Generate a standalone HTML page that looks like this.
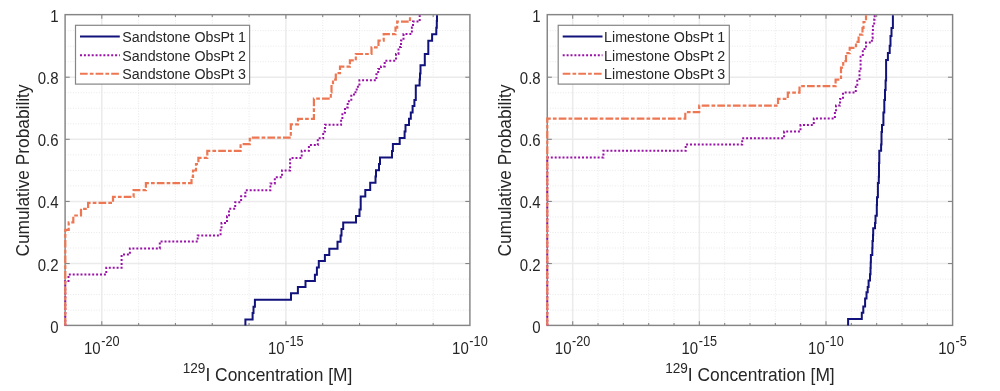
<!DOCTYPE html>
<html><head><meta charset="utf-8"><style>
html,body{margin:0;padding:0;background:#fff;width:1000px;height:391px;overflow:hidden}
svg{display:block;will-change:transform}
text{font-family:"Liberation Sans",sans-serif}
</style></head><body>
<svg width="1000" height="391" viewBox="0 0 1000 391">
<rect width="1000" height="391" fill="#fff"/>
<line x1="138.62" y1="14.65" x2="138.62" y2="325.4" stroke="#e8e8e8" stroke-width="1" stroke-dasharray="1 1.6"/>
<line x1="175.44" y1="14.65" x2="175.44" y2="325.4" stroke="#e8e8e8" stroke-width="1" stroke-dasharray="1 1.6"/>
<line x1="212.26" y1="14.65" x2="212.26" y2="325.4" stroke="#e8e8e8" stroke-width="1" stroke-dasharray="1 1.6"/>
<line x1="249.08" y1="14.65" x2="249.08" y2="325.4" stroke="#e8e8e8" stroke-width="1" stroke-dasharray="1 1.6"/>
<line x1="322.72" y1="14.65" x2="322.72" y2="325.4" stroke="#e8e8e8" stroke-width="1" stroke-dasharray="1 1.6"/>
<line x1="359.54" y1="14.65" x2="359.54" y2="325.4" stroke="#e8e8e8" stroke-width="1" stroke-dasharray="1 1.6"/>
<line x1="396.36" y1="14.65" x2="396.36" y2="325.4" stroke="#e8e8e8" stroke-width="1" stroke-dasharray="1 1.6"/>
<line x1="433.18" y1="14.65" x2="433.18" y2="325.4" stroke="#e8e8e8" stroke-width="1" stroke-dasharray="1 1.6"/>
<line x1="65.1" y1="310.12" x2="469.9" y2="310.12" stroke="#e8e8e8" stroke-width="1" stroke-dasharray="1 1.6"/>
<line x1="65.1" y1="294.59" x2="469.9" y2="294.59" stroke="#e8e8e8" stroke-width="1" stroke-dasharray="1 1.6"/>
<line x1="65.1" y1="279.07" x2="469.9" y2="279.07" stroke="#e8e8e8" stroke-width="1" stroke-dasharray="1 1.6"/>
<line x1="65.1" y1="248.01" x2="469.9" y2="248.01" stroke="#e8e8e8" stroke-width="1" stroke-dasharray="1 1.6"/>
<line x1="65.1" y1="232.48" x2="469.9" y2="232.48" stroke="#e8e8e8" stroke-width="1" stroke-dasharray="1 1.6"/>
<line x1="65.1" y1="216.96" x2="469.9" y2="216.96" stroke="#e8e8e8" stroke-width="1" stroke-dasharray="1 1.6"/>
<line x1="65.1" y1="185.90" x2="469.9" y2="185.90" stroke="#e8e8e8" stroke-width="1" stroke-dasharray="1 1.6"/>
<line x1="65.1" y1="170.37" x2="469.9" y2="170.37" stroke="#e8e8e8" stroke-width="1" stroke-dasharray="1 1.6"/>
<line x1="65.1" y1="154.85" x2="469.9" y2="154.85" stroke="#e8e8e8" stroke-width="1" stroke-dasharray="1 1.6"/>
<line x1="65.1" y1="123.79" x2="469.9" y2="123.79" stroke="#e8e8e8" stroke-width="1" stroke-dasharray="1 1.6"/>
<line x1="65.1" y1="108.26" x2="469.9" y2="108.26" stroke="#e8e8e8" stroke-width="1" stroke-dasharray="1 1.6"/>
<line x1="65.1" y1="92.74" x2="469.9" y2="92.74" stroke="#e8e8e8" stroke-width="1" stroke-dasharray="1 1.6"/>
<line x1="65.1" y1="61.68" x2="469.9" y2="61.68" stroke="#e8e8e8" stroke-width="1" stroke-dasharray="1 1.6"/>
<line x1="65.1" y1="46.15" x2="469.9" y2="46.15" stroke="#e8e8e8" stroke-width="1" stroke-dasharray="1 1.6"/>
<line x1="65.1" y1="30.63" x2="469.9" y2="30.63" stroke="#e8e8e8" stroke-width="1" stroke-dasharray="1 1.6"/>
<line x1="101.80" y1="14.65" x2="101.80" y2="325.4" stroke="#ebebeb" stroke-width="1.5"/>
<line x1="285.90" y1="14.65" x2="285.90" y2="325.4" stroke="#ebebeb" stroke-width="1.5"/>
<line x1="65.1" y1="263.54" x2="469.9" y2="263.54" stroke="#ebebeb" stroke-width="1.5"/>
<line x1="65.1" y1="201.43" x2="469.9" y2="201.43" stroke="#ebebeb" stroke-width="1.5"/>
<line x1="65.1" y1="139.32" x2="469.9" y2="139.32" stroke="#ebebeb" stroke-width="1.5"/>
<line x1="65.1" y1="77.21" x2="469.9" y2="77.21" stroke="#ebebeb" stroke-width="1.5"/>
<line x1="101.80" y1="325.4" x2="101.80" y2="321.2" stroke="#858585" stroke-width="1.1"/>
<line x1="101.80" y1="14.65" x2="101.80" y2="18.85" stroke="#858585" stroke-width="1.1"/>
<line x1="138.62" y1="325.4" x2="138.62" y2="323.0" stroke="#858585" stroke-width="1.1"/>
<line x1="138.62" y1="14.65" x2="138.62" y2="17.05" stroke="#858585" stroke-width="1.1"/>
<line x1="175.44" y1="325.4" x2="175.44" y2="323.0" stroke="#858585" stroke-width="1.1"/>
<line x1="175.44" y1="14.65" x2="175.44" y2="17.05" stroke="#858585" stroke-width="1.1"/>
<line x1="212.26" y1="325.4" x2="212.26" y2="323.0" stroke="#858585" stroke-width="1.1"/>
<line x1="212.26" y1="14.65" x2="212.26" y2="17.05" stroke="#858585" stroke-width="1.1"/>
<line x1="249.08" y1="325.4" x2="249.08" y2="323.0" stroke="#858585" stroke-width="1.1"/>
<line x1="249.08" y1="14.65" x2="249.08" y2="17.05" stroke="#858585" stroke-width="1.1"/>
<line x1="285.90" y1="325.4" x2="285.90" y2="321.2" stroke="#858585" stroke-width="1.1"/>
<line x1="285.90" y1="14.65" x2="285.90" y2="18.85" stroke="#858585" stroke-width="1.1"/>
<line x1="322.72" y1="325.4" x2="322.72" y2="323.0" stroke="#858585" stroke-width="1.1"/>
<line x1="322.72" y1="14.65" x2="322.72" y2="17.05" stroke="#858585" stroke-width="1.1"/>
<line x1="359.54" y1="325.4" x2="359.54" y2="323.0" stroke="#858585" stroke-width="1.1"/>
<line x1="359.54" y1="14.65" x2="359.54" y2="17.05" stroke="#858585" stroke-width="1.1"/>
<line x1="396.36" y1="325.4" x2="396.36" y2="323.0" stroke="#858585" stroke-width="1.1"/>
<line x1="396.36" y1="14.65" x2="396.36" y2="17.05" stroke="#858585" stroke-width="1.1"/>
<line x1="433.18" y1="325.4" x2="433.18" y2="323.0" stroke="#858585" stroke-width="1.1"/>
<line x1="433.18" y1="14.65" x2="433.18" y2="17.05" stroke="#858585" stroke-width="1.1"/>
<line x1="65.1" y1="263.54" x2="69.69999999999999" y2="263.54" stroke="#858585" stroke-width="1.1"/>
<line x1="469.9" y1="263.54" x2="465.29999999999995" y2="263.54" stroke="#858585" stroke-width="1.1"/>
<line x1="65.1" y1="201.43" x2="69.69999999999999" y2="201.43" stroke="#858585" stroke-width="1.1"/>
<line x1="469.9" y1="201.43" x2="465.29999999999995" y2="201.43" stroke="#858585" stroke-width="1.1"/>
<line x1="65.1" y1="139.32" x2="69.69999999999999" y2="139.32" stroke="#858585" stroke-width="1.1"/>
<line x1="469.9" y1="139.32" x2="465.29999999999995" y2="139.32" stroke="#858585" stroke-width="1.1"/>
<line x1="65.1" y1="77.21" x2="69.69999999999999" y2="77.21" stroke="#858585" stroke-width="1.1"/>
<line x1="469.9" y1="77.21" x2="465.29999999999995" y2="77.21" stroke="#858585" stroke-width="1.1"/>
<rect x="65.1" y="14.65" width="404.80" height="310.75" fill="none" stroke="#858585" stroke-width="1.45"/>
<path d="M245.4,325.6V319.4H252.6V313.0H253.5V306.8H254.9V299.8H291.0V293.3H297.9V287.1H305.5V281.0H314.9V274.7H316.9V267.6H318.8V261.0H324.9V254.9H329.3V248.7H337.5V241.8H340.6V235.5H341.5V229.1H343.2V222.6H356.0V216.0H359.5V209.5H360.7V203.0V196.6H365.3V190.0H370.2V182.7H375.5V176.5H376.0V170.3H379.0V163.9H380.0V157.6H392.0V150.9H392.9V144.1H399.7V138.0H404.6V131.5H405.5V124.9H409.0V118.7H410.8V112.4H412.6V106.1H414.4V99.9H415.8V92.7V85.6H419.6V79.5H420.0V73.4H420.5V65.3H424.8V59.7V54.1H428.3V47.4V40.7H432.1V34.3H436.3V27.7H436.8V21.1H437.0V15.3" fill="none" stroke="#12127c" stroke-width="2"/>
<path d="M65.3,325.6V281.0H68.5V274.5H106.3V267.7H121.6V261.2V254.6H129.9V248.4H159.8V241.5H197.7V235.4H220.6V229.0H221.5V223.0H227.0V216.3H229.0V208.8H235.2V202.2H241.1V196.3H245.4V190.2H270.4V183.5H274.8V177.3H282.0V170.5H290.1V164.2V158.0H301.7V150.8H308.9V145.1H317.8V138.3H323.2V131.5H325.0V124.8H341.1V119.1H342.4V112.8H345.0V107.4H347.7V101.2H351.3V95.8H354.0V92.2H356.7V86.8H359.4V80.3H376.4V74.3H378.2V69.0H381.0V66.4H384.7V60.7H396.0V54.0H398.5V47.1H401.0V40.5H403.5V34.0H411.9V27.5H413.0V21.6H419.7V15.3" fill="none" stroke="#9a10a8" stroke-width="2" stroke-dasharray="2 1.9"/>
<path d="M65.3,325.6V229.8H68.7V222.4H73.3V215.5H81.0V208.8H88.1V202.8H113.0V196.8H133.6V190.2H145.9V183.1H191.5V176.9H193.0V170.5H196.0V164.0H198.4V157.8H207.3V150.9H240.6V144.1H249.8V137.7H290.8V131.0V124.4H298.0V118.8H313.9V112.0V105.3V98.7H330.8V92.3H331.5V86.0H333.0V79.6H335.8V73.2H340.0V66.6H349.9V60.4H355.8V54.0H371.5V47.3H378.5V40.6H383.7V34.1H395.5V27.7H397.2V21.7H410.0V15.3" fill="none" stroke="#ee7753" stroke-width="2.2" stroke-dasharray="7.7 2.1 3.7 2.1"/>
<rect x="75.5" y="25.3" width="174.1" height="58.8" fill="#fff" stroke="#858585" stroke-width="1.2"/>
<line x1="80.0" y1="36.5" x2="119.8" y2="36.5" stroke="#12127c" stroke-width="2"/>
<text transform="translate(122.30 41.80) scale(1 1.0)" font-size="14.25" text-anchor="start" fill="#262626">Sandstone ObsPt 1</text>
<line x1="80.0" y1="55.2" x2="119.8" y2="55.2" stroke="#9a10a8" stroke-width="2" stroke-dasharray="2 1.9"/>
<text transform="translate(122.30 60.50) scale(1 1.0)" font-size="14.25" text-anchor="start" fill="#262626">Sandstone ObsPt 2</text>
<line x1="80.0" y1="73.8" x2="119.8" y2="73.8" stroke="#ee7753" stroke-width="2" stroke-dasharray="7.7 2.1 3.7 2.1"/>
<text transform="translate(122.30 79.10) scale(1 1.0)" font-size="14.25" text-anchor="start" fill="#262626">Sandstone ObsPt 3</text>
<text transform="translate(58.50 332.65) scale(1 1.12)" font-size="15" text-anchor="end" fill="#262626">0</text>
<text transform="translate(58.50 270.54) scale(1 1.12)" font-size="15" text-anchor="end" fill="#262626">0.2</text>
<text transform="translate(58.50 208.43) scale(1 1.12)" font-size="15" text-anchor="end" fill="#262626">0.4</text>
<text transform="translate(58.50 146.32) scale(1 1.12)" font-size="15" text-anchor="end" fill="#262626">0.6</text>
<text transform="translate(58.50 84.21) scale(1 1.12)" font-size="15" text-anchor="end" fill="#262626">0.8</text>
<text transform="translate(58.50 22.10) scale(1 1.12)" font-size="15" text-anchor="end" fill="#262626">1</text>
<text transform="translate(101.70 353.90) scale(1 1.12)" font-size="15" text-anchor="middle" fill="#262626">10<tspan font-size="12.7" dx="0.6" dy="-7.2">-20</tspan></text>
<text transform="translate(285.80 353.90) scale(1 1.12)" font-size="15" text-anchor="middle" fill="#262626">10<tspan font-size="12.7" dx="0.6" dy="-7.2">-15</tspan></text>
<text transform="translate(469.90 353.90) scale(1 1.12)" font-size="15" text-anchor="middle" fill="#262626">10<tspan font-size="12.7" dx="0.6" dy="-7.2">-10</tspan></text>
<text transform="translate(29.10 170.50) rotate(-90) scale(1 1.08)" font-size="17.3" text-anchor="middle" fill="#262626">Cumulative Probability</text>
<text transform="translate(267.50 381.30) scale(1 1.07)" font-size="17.4" text-anchor="middle" fill="#262626"><tspan font-size="13.6" dy="-8">129</tspan><tspan dy="8">I Concentration [M]</tspan></text>
<line x1="598.03" y1="14.65" x2="598.03" y2="325.4" stroke="#e8e8e8" stroke-width="1" stroke-dasharray="1 1.6"/>
<line x1="623.36" y1="14.65" x2="623.36" y2="325.4" stroke="#e8e8e8" stroke-width="1" stroke-dasharray="1 1.6"/>
<line x1="648.69" y1="14.65" x2="648.69" y2="325.4" stroke="#e8e8e8" stroke-width="1" stroke-dasharray="1 1.6"/>
<line x1="674.02" y1="14.65" x2="674.02" y2="325.4" stroke="#e8e8e8" stroke-width="1" stroke-dasharray="1 1.6"/>
<line x1="724.68" y1="14.65" x2="724.68" y2="325.4" stroke="#e8e8e8" stroke-width="1" stroke-dasharray="1 1.6"/>
<line x1="750.01" y1="14.65" x2="750.01" y2="325.4" stroke="#e8e8e8" stroke-width="1" stroke-dasharray="1 1.6"/>
<line x1="775.34" y1="14.65" x2="775.34" y2="325.4" stroke="#e8e8e8" stroke-width="1" stroke-dasharray="1 1.6"/>
<line x1="800.67" y1="14.65" x2="800.67" y2="325.4" stroke="#e8e8e8" stroke-width="1" stroke-dasharray="1 1.6"/>
<line x1="851.33" y1="14.65" x2="851.33" y2="325.4" stroke="#e8e8e8" stroke-width="1" stroke-dasharray="1 1.6"/>
<line x1="876.66" y1="14.65" x2="876.66" y2="325.4" stroke="#e8e8e8" stroke-width="1" stroke-dasharray="1 1.6"/>
<line x1="901.99" y1="14.65" x2="901.99" y2="325.4" stroke="#e8e8e8" stroke-width="1" stroke-dasharray="1 1.6"/>
<line x1="927.32" y1="14.65" x2="927.32" y2="325.4" stroke="#e8e8e8" stroke-width="1" stroke-dasharray="1 1.6"/>
<line x1="547.25" y1="310.12" x2="952.6" y2="310.12" stroke="#e8e8e8" stroke-width="1" stroke-dasharray="1 1.6"/>
<line x1="547.25" y1="294.59" x2="952.6" y2="294.59" stroke="#e8e8e8" stroke-width="1" stroke-dasharray="1 1.6"/>
<line x1="547.25" y1="279.07" x2="952.6" y2="279.07" stroke="#e8e8e8" stroke-width="1" stroke-dasharray="1 1.6"/>
<line x1="547.25" y1="248.01" x2="952.6" y2="248.01" stroke="#e8e8e8" stroke-width="1" stroke-dasharray="1 1.6"/>
<line x1="547.25" y1="232.48" x2="952.6" y2="232.48" stroke="#e8e8e8" stroke-width="1" stroke-dasharray="1 1.6"/>
<line x1="547.25" y1="216.96" x2="952.6" y2="216.96" stroke="#e8e8e8" stroke-width="1" stroke-dasharray="1 1.6"/>
<line x1="547.25" y1="185.90" x2="952.6" y2="185.90" stroke="#e8e8e8" stroke-width="1" stroke-dasharray="1 1.6"/>
<line x1="547.25" y1="170.37" x2="952.6" y2="170.37" stroke="#e8e8e8" stroke-width="1" stroke-dasharray="1 1.6"/>
<line x1="547.25" y1="154.85" x2="952.6" y2="154.85" stroke="#e8e8e8" stroke-width="1" stroke-dasharray="1 1.6"/>
<line x1="547.25" y1="123.79" x2="952.6" y2="123.79" stroke="#e8e8e8" stroke-width="1" stroke-dasharray="1 1.6"/>
<line x1="547.25" y1="108.26" x2="952.6" y2="108.26" stroke="#e8e8e8" stroke-width="1" stroke-dasharray="1 1.6"/>
<line x1="547.25" y1="92.74" x2="952.6" y2="92.74" stroke="#e8e8e8" stroke-width="1" stroke-dasharray="1 1.6"/>
<line x1="547.25" y1="61.68" x2="952.6" y2="61.68" stroke="#e8e8e8" stroke-width="1" stroke-dasharray="1 1.6"/>
<line x1="547.25" y1="46.15" x2="952.6" y2="46.15" stroke="#e8e8e8" stroke-width="1" stroke-dasharray="1 1.6"/>
<line x1="547.25" y1="30.63" x2="952.6" y2="30.63" stroke="#e8e8e8" stroke-width="1" stroke-dasharray="1 1.6"/>
<line x1="572.70" y1="14.65" x2="572.70" y2="325.4" stroke="#ebebeb" stroke-width="1.5"/>
<line x1="699.35" y1="14.65" x2="699.35" y2="325.4" stroke="#ebebeb" stroke-width="1.5"/>
<line x1="826.00" y1="14.65" x2="826.00" y2="325.4" stroke="#ebebeb" stroke-width="1.5"/>
<line x1="547.25" y1="263.54" x2="952.6" y2="263.54" stroke="#ebebeb" stroke-width="1.5"/>
<line x1="547.25" y1="201.43" x2="952.6" y2="201.43" stroke="#ebebeb" stroke-width="1.5"/>
<line x1="547.25" y1="139.32" x2="952.6" y2="139.32" stroke="#ebebeb" stroke-width="1.5"/>
<line x1="547.25" y1="77.21" x2="952.6" y2="77.21" stroke="#ebebeb" stroke-width="1.5"/>
<line x1="572.70" y1="325.4" x2="572.70" y2="321.2" stroke="#858585" stroke-width="1.1"/>
<line x1="572.70" y1="14.65" x2="572.70" y2="18.85" stroke="#858585" stroke-width="1.1"/>
<line x1="598.03" y1="325.4" x2="598.03" y2="323.0" stroke="#858585" stroke-width="1.1"/>
<line x1="598.03" y1="14.65" x2="598.03" y2="17.05" stroke="#858585" stroke-width="1.1"/>
<line x1="623.36" y1="325.4" x2="623.36" y2="323.0" stroke="#858585" stroke-width="1.1"/>
<line x1="623.36" y1="14.65" x2="623.36" y2="17.05" stroke="#858585" stroke-width="1.1"/>
<line x1="648.69" y1="325.4" x2="648.69" y2="323.0" stroke="#858585" stroke-width="1.1"/>
<line x1="648.69" y1="14.65" x2="648.69" y2="17.05" stroke="#858585" stroke-width="1.1"/>
<line x1="674.02" y1="325.4" x2="674.02" y2="323.0" stroke="#858585" stroke-width="1.1"/>
<line x1="674.02" y1="14.65" x2="674.02" y2="17.05" stroke="#858585" stroke-width="1.1"/>
<line x1="699.35" y1="325.4" x2="699.35" y2="321.2" stroke="#858585" stroke-width="1.1"/>
<line x1="699.35" y1="14.65" x2="699.35" y2="18.85" stroke="#858585" stroke-width="1.1"/>
<line x1="724.68" y1="325.4" x2="724.68" y2="323.0" stroke="#858585" stroke-width="1.1"/>
<line x1="724.68" y1="14.65" x2="724.68" y2="17.05" stroke="#858585" stroke-width="1.1"/>
<line x1="750.01" y1="325.4" x2="750.01" y2="323.0" stroke="#858585" stroke-width="1.1"/>
<line x1="750.01" y1="14.65" x2="750.01" y2="17.05" stroke="#858585" stroke-width="1.1"/>
<line x1="775.34" y1="325.4" x2="775.34" y2="323.0" stroke="#858585" stroke-width="1.1"/>
<line x1="775.34" y1="14.65" x2="775.34" y2="17.05" stroke="#858585" stroke-width="1.1"/>
<line x1="800.67" y1="325.4" x2="800.67" y2="323.0" stroke="#858585" stroke-width="1.1"/>
<line x1="800.67" y1="14.65" x2="800.67" y2="17.05" stroke="#858585" stroke-width="1.1"/>
<line x1="826.00" y1="325.4" x2="826.00" y2="321.2" stroke="#858585" stroke-width="1.1"/>
<line x1="826.00" y1="14.65" x2="826.00" y2="18.85" stroke="#858585" stroke-width="1.1"/>
<line x1="851.33" y1="325.4" x2="851.33" y2="323.0" stroke="#858585" stroke-width="1.1"/>
<line x1="851.33" y1="14.65" x2="851.33" y2="17.05" stroke="#858585" stroke-width="1.1"/>
<line x1="876.66" y1="325.4" x2="876.66" y2="323.0" stroke="#858585" stroke-width="1.1"/>
<line x1="876.66" y1="14.65" x2="876.66" y2="17.05" stroke="#858585" stroke-width="1.1"/>
<line x1="901.99" y1="325.4" x2="901.99" y2="323.0" stroke="#858585" stroke-width="1.1"/>
<line x1="901.99" y1="14.65" x2="901.99" y2="17.05" stroke="#858585" stroke-width="1.1"/>
<line x1="927.32" y1="325.4" x2="927.32" y2="323.0" stroke="#858585" stroke-width="1.1"/>
<line x1="927.32" y1="14.65" x2="927.32" y2="17.05" stroke="#858585" stroke-width="1.1"/>
<line x1="547.25" y1="263.54" x2="551.85" y2="263.54" stroke="#858585" stroke-width="1.1"/>
<line x1="952.6" y1="263.54" x2="948.0" y2="263.54" stroke="#858585" stroke-width="1.1"/>
<line x1="547.25" y1="201.43" x2="551.85" y2="201.43" stroke="#858585" stroke-width="1.1"/>
<line x1="952.6" y1="201.43" x2="948.0" y2="201.43" stroke="#858585" stroke-width="1.1"/>
<line x1="547.25" y1="139.32" x2="551.85" y2="139.32" stroke="#858585" stroke-width="1.1"/>
<line x1="952.6" y1="139.32" x2="948.0" y2="139.32" stroke="#858585" stroke-width="1.1"/>
<line x1="547.25" y1="77.21" x2="551.85" y2="77.21" stroke="#858585" stroke-width="1.1"/>
<line x1="952.6" y1="77.21" x2="948.0" y2="77.21" stroke="#858585" stroke-width="1.1"/>
<rect x="547.25" y="14.65" width="405.35" height="310.75" fill="none" stroke="#858585" stroke-width="1.45"/>
<path d="M848.1,325.6V319.1H861.8V312.8H863.3V306.5H865.1V298.5H866.5V292.2H867.7V286.9H868.6V280.6H870.0V274.3H870.5V268.0H870.7V262.3H870.9V255.0H872.3V248.0H872.5V241.0H873.0V235.0H873.2V228.3H875.0V222.9H875.5V215.7H876.8V205.0H877.0V197.3H877.9V183.0H878.8V176.7H879.0V163.0H879.3V150.7H881.1V144.5H881.5V132.0H882.0V125.1H883.4V112.6H884.3V100.0H885.0V90.0H885.6V80.4H886.1V60.1H887.9V53.0H889.7V45.8H890.5V36.0H891.5V27.9H892.9V15.3" fill="none" stroke="#12127c" stroke-width="2"/>
<path d="M547.3,325.6V157.5H603.4V150.8H685.7V144.6H742.2V138.3H784.1V131.6H800.5V125.0H813.8V118.5H834.9V112.0H836.0V105.6H840.0V99.0H843.0V92.6H855.8V86.7H857.3V80.7H859.5V74.7V68.7H860.6V62.7V56.7H862.8V49.1H866.0V42.6H871.9V38.3H872.6V31.8H872.9V25.2H874.2V19.5H874.7V15.3" fill="none" stroke="#9a10a8" stroke-width="2" stroke-dasharray="2 1.9"/>
<path d="M547.3,325.6V118.6H685.3V112.2H699.2V105.6H778.0V98.8H787.8V92.7H799.5V86.1H835.6V79.6H841.0V73.6V67.6H843.2V61.1H846.0V53.2H849.7V47.9H856.0V41.9H858.6V34.6H862.5V28.0H863.5V22.0H866.0V15.3" fill="none" stroke="#ee7753" stroke-width="2.2" stroke-dasharray="7.7 2.1 3.7 2.1"/>
<rect x="558.2" y="25.3" width="171.0999999999999" height="58.8" fill="#fff" stroke="#858585" stroke-width="1.2"/>
<line x1="562.7" y1="36.5" x2="602.5" y2="36.5" stroke="#12127c" stroke-width="2"/>
<text transform="translate(604.10 41.80) scale(1 1.0)" font-size="14.25" text-anchor="start" fill="#262626">Limestone ObsPt 1</text>
<line x1="562.7" y1="55.2" x2="602.5" y2="55.2" stroke="#9a10a8" stroke-width="2" stroke-dasharray="2 1.9"/>
<text transform="translate(604.10 60.50) scale(1 1.0)" font-size="14.25" text-anchor="start" fill="#262626">Limestone ObsPt 2</text>
<line x1="562.7" y1="73.8" x2="602.5" y2="73.8" stroke="#ee7753" stroke-width="2" stroke-dasharray="7.7 2.1 3.7 2.1"/>
<text transform="translate(604.10 79.10) scale(1 1.0)" font-size="14.25" text-anchor="start" fill="#262626">Limestone ObsPt 3</text>
<text transform="translate(540.65 332.65) scale(1 1.12)" font-size="15" text-anchor="end" fill="#262626">0</text>
<text transform="translate(540.65 270.54) scale(1 1.12)" font-size="15" text-anchor="end" fill="#262626">0.2</text>
<text transform="translate(540.65 208.43) scale(1 1.12)" font-size="15" text-anchor="end" fill="#262626">0.4</text>
<text transform="translate(540.65 146.32) scale(1 1.12)" font-size="15" text-anchor="end" fill="#262626">0.6</text>
<text transform="translate(540.65 84.21) scale(1 1.12)" font-size="15" text-anchor="end" fill="#262626">0.8</text>
<text transform="translate(540.65 22.10) scale(1 1.12)" font-size="15" text-anchor="end" fill="#262626">1</text>
<text transform="translate(572.60 353.90) scale(1 1.12)" font-size="15" text-anchor="middle" fill="#262626">10<tspan font-size="12.7" dx="0.6" dy="-7.2">-20</tspan></text>
<text transform="translate(699.25 353.90) scale(1 1.12)" font-size="15" text-anchor="middle" fill="#262626">10<tspan font-size="12.7" dx="0.6" dy="-7.2">-15</tspan></text>
<text transform="translate(825.90 353.90) scale(1 1.12)" font-size="15" text-anchor="middle" fill="#262626">10<tspan font-size="12.7" dx="0.6" dy="-7.2">-10</tspan></text>
<text transform="translate(952.55 353.90) scale(1 1.12)" font-size="15" text-anchor="middle" fill="#262626">10<tspan font-size="12.7" dx="0.6" dy="-7.2">-5</tspan></text>
<text transform="translate(511.25 170.50) rotate(-90) scale(1 1.08)" font-size="17.3" text-anchor="middle" fill="#262626">Cumulative Probability</text>
<text transform="translate(749.92 381.30) scale(1 1.07)" font-size="17.4" text-anchor="middle" fill="#262626"><tspan font-size="13.6" dy="-8">129</tspan><tspan dy="8">I Concentration [M]</tspan></text>
</svg></body></html>
